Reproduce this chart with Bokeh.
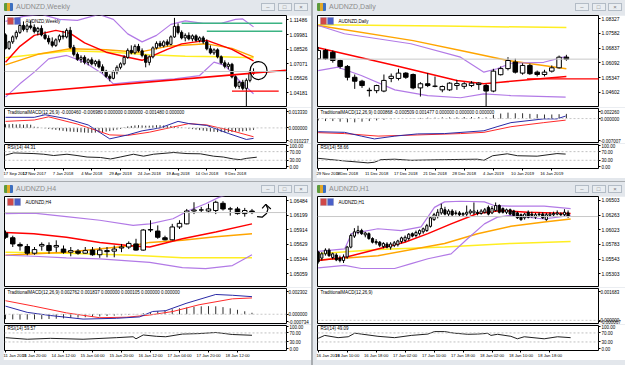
from bokeh.plotting import figure
from bokeh.models import Range1d, FixedTicker, PrintfTickFormatter, Label, Span, Div, BoxAnnotation, Spacer
from bokeh.layouts import column, row
from bokeh.embed import file_html
from bokeh.resources import INLINE

SANS = "Liberation Sans"

# ======================= WEEKLY =======================
w_open = [1.0995, 1.0860, 1.0925, 1.0975, 1.1020, 1.1090, 1.1050, 1.1085, 1.1070, 1.1030,
          1.1060, 1.0995, 1.0960, 1.0925, 1.0890, 1.0945, 1.0985, 1.0975, 1.1040, 1.0870,
          1.0800, 1.0750, 1.0770, 1.0720, 1.0745, 1.0705, 1.0730, 1.0675, 1.0630, 1.0580,
          1.0560, 1.0625, 1.0670, 1.0705, 1.0770, 1.0840, 1.0815, 1.0880, 1.0835, 1.0790,
          1.0720, 1.0775, 1.0865, 1.0910, 1.0885, 1.0925, 1.0900, 1.0975, 1.1080, 1.1020,
          1.0965, 1.0990, 1.0955, 1.0985, 1.0940, 1.0965, 1.0925, 1.0855, 1.0815, 1.0845,
          1.0775, 1.0715, 1.0680, 1.0700, 1.0575, 1.0480, 1.0520, 1.0460, 1.0540, 1.0615]
w_high = [1.1010, 1.0935, 1.0990, 1.1040, 1.1120, 1.1130, 1.1110, 1.1140, 1.1100, 1.1075,
          1.1090, 1.1030, 1.0990, 1.0970, 1.0960, 1.1000, 1.1035, 1.1060, 1.1075, 1.0895,
          1.0820, 1.0790, 1.0790, 1.0760, 1.0770, 1.0745, 1.0750, 1.0700, 1.0645, 1.0600,
          1.0640, 1.0690, 1.0720, 1.0790, 1.0860, 1.0890, 1.0900, 1.0905, 1.0860, 1.0800,
          1.0790, 1.0880, 1.0930, 1.0935, 1.0940, 1.0950, 1.0990, 1.1165, 1.1110, 1.1040,
          1.1010, 1.1020, 1.1000, 1.1000, 1.0980, 1.0985, 1.0950, 1.0890, 1.0860, 1.0860,
          1.0790, 1.0740, 1.0720, 1.0715, 1.0590, 1.0535, 1.0545, 1.0560, 1.0640, 1.0660]
w_low = [1.0850, 1.0845, 1.0905, 1.0950, 1.1005, 1.1030, 1.1020, 1.1050, 1.1010, 1.0990,
         1.0980, 1.0945, 1.0900, 1.0870, 1.0875, 1.0920, 1.0950, 1.0960, 1.0855, 1.0780,
         1.0735, 1.0715, 1.0700, 1.0690, 1.0690, 1.0680, 1.0660, 1.0610, 1.0565, 1.0530,
         1.0550, 1.0600, 1.0650, 1.0690, 1.0755, 1.0800, 1.0800, 1.0820, 1.0770, 1.0670,
         1.0690, 1.0760, 1.0850, 1.0870, 1.0870, 1.0880, 1.0890, 1.0965, 1.1000, 1.0950,
         1.0930, 1.0940, 1.0930, 1.0925, 1.0920, 1.0905, 1.0840, 1.0800, 1.0795, 1.0760,
         1.0700, 1.0660, 1.0650, 1.0560, 1.0460, 1.0455, 1.0440, 1.0280, 1.0520, 1.0595]
w_close = [1.0860, 1.0925, 1.0975, 1.1020, 1.1090, 1.1050, 1.1085, 1.1070, 1.1030, 1.1060,
           1.0995, 1.0960, 1.0925, 1.0890, 1.0945, 1.0985, 1.0975, 1.1040, 1.0870, 1.0800,
           1.0750, 1.0770, 1.0720, 1.0745, 1.0705, 1.0730, 1.0675, 1.0630, 1.0580, 1.0560,
           1.0625, 1.0670, 1.0705, 1.0770, 1.0840, 1.0815, 1.0880, 1.0835, 1.0790, 1.0720,
           1.0775, 1.0865, 1.0910, 1.0885, 1.0925, 1.0900, 1.0975, 1.1080, 1.1020, 1.0965,
           1.0990, 1.0955, 1.0985, 1.0940, 1.0965, 1.0925, 1.0855, 1.0815, 1.0845, 1.0775,
           1.0715, 1.0680, 1.0700, 1.0575, 1.0480, 1.0520, 1.0460, 1.0540, 1.0615, 1.0628]
w_price_ticks = [1.11486, 1.09981, 1.08526, 1.07071, 1.05626, 1.04181]
w_red_x = [0, 4, 8, 14, 18, 22, 28, 34, 38, 45, 49, 56, 63, 69]
w_red_y = [1.0722, 1.0880, 1.0990, 1.1040, 1.1010, 1.0915, 1.0822, 1.0772, 1.0740, 1.0850, 1.0905, 1.0940, 1.0850, 1.0735]
w_orange_x = [0, 9, 18, 28, 37, 45, 56, 63, 69]
w_orange_y = [1.0695, 1.0800, 1.0855, 1.0845, 1.0820, 1.0880, 1.0905, 1.0860, 1.0775]
w_yellow_x = [0, 10, 18, 30, 40, 50, 60, 69]
w_yellow_y = [1.0765, 1.0805, 1.0835, 1.0820, 1.0795, 1.0780, 1.0775, 1.0765]
w_bbu_x = [0, 5, 10, 15, 20, 26, 30, 34, 38, 42, 46, 50, 55, 60, 64, 66, 69]
w_bbu_y = [1.1130, 1.1180, 1.1200, 1.1150, 1.1140, 1.1200, 1.1150, 1.1005, 1.0925, 1.0990, 1.1100, 1.1135, 1.1110, 1.1110, 1.1150, 1.1155, 1.1075]
w_bbl_x = [0, 4, 8, 12, 17, 22, 27, 30, 35, 40, 47, 54, 58, 61, 65, 69]
w_bbl_y = [1.0372, 1.0505, 1.0622, 1.0755, 1.0789, 1.0722, 1.0605, 1.0505, 1.0522, 1.0538, 1.0555, 1.0588, 1.0722, 1.0689, 1.0538, 1.0405]
w_trend_x = [0, 78]
w_trend_y = [1.0400, 1.0640]
w_green1_x = [49, 77]
w_green1_y = [1.1112, 1.1112]
w_green2_x = [56, 77]
w_green2_y = [1.1032, 1.1032]
w_redh_x = [63, 76]
w_redh_y = [1.0431, 1.0431]
w_circle = dict(x=[70.4], y=[1.0638], w=[4.7], h=[0.018])
w_macd_blue_x = [0, 8, 11, 17, 23, 29, 34, 38, 43, 48, 51, 56, 62, 67, 69]
w_macd_blue_y = [0.0086, 0.0086, 0.0107, 0.0075, 0.0024, -0.0089, -0.0057, -0.0024, 0.0000, 0.0053, 0.0035, 0.0020, -0.0045, -0.0094, -0.0085]
w_macd_red_x = [0, 8, 12, 20, 29, 34, 40, 51, 56, 63, 69]
w_macd_red_y = [0.0053, 0.0064, 0.0090, 0.0031, -0.0057, -0.0061, -0.0035, 0.0035, 0.0024, -0.0024, -0.0072]
w_macd_hist = [0.0030, 0.0030, 0.0032, 0.0028, 0.0030, 0.0026, 0.0030, 0.0026, 0.0010, 0.0008,
               0.0000, -0.0004, -0.0008, -0.0012, -0.0016, -0.0020, -0.0024, -0.0028, -0.0030, -0.0032,
               -0.0034, -0.0036, -0.0038, -0.0040, -0.0040, -0.0038, -0.0036, -0.0034, -0.0030, -0.0026,
               -0.0020, -0.0014, -0.0008, 0.0004, 0.0012, 0.0016, 0.0020, 0.0022, 0.0020, 0.0018,
               0.0018, 0.0020, 0.0022, 0.0022, 0.0020, 0.0018, 0.0016, 0.0012, 0.0008, 0.0004,
               0.0000, -0.0006, -0.0010, -0.0014, -0.0018, -0.0022, -0.0026, -0.0030, -0.0032, -0.0034,
               -0.0034, -0.0036, -0.0036, -0.0034, -0.0032, -0.0030, -0.0028, -0.0024, -0.0020, -0.0016]
w_macd_ticks = [0.013330, 0.0, -0.010237]
w_rsi_x = [0, 2.3, 7.9, 10.6, 13.4, 17.1, 19.9, 22.7, 26.4, 29.2, 31.9, 35.6, 38.4, 41.2, 46.8, 50.5, 54.2, 57.9, 60.6, 63.4, 65.3, 67.1, 69.9]
w_rsi_y = [54, 64, 61, 58, 52, 58, 52, 45, 43, 36, 45, 58, 49, 58, 66, 61, 60, 49, 45, 36, 33, 39, 44.3]
w_date_ticks = [0, 8, 16, 24, 32, 40, 48, 56, 64]
w_date_labels = ["17 Sep 2017", "12 Nov 2017", "7 Jan 2018", "4 Mar 2018", "29 Apr 2018",
                 "24 Jun 2018", "19 Aug 2018", "14 Oct 2018", "9 Dec 2018"]

# ======================= DAILY =======================
d_open = [1.0630, 1.0672, 1.0663, 1.0621, 1.0591, 1.0536, 1.0516, 1.0470, 1.0468, 1.0466,
          1.0530, 1.0530, 1.0557, 1.0550, 1.0482, 1.0503, 1.0490, 1.0472, 1.0472, 1.0494,
          1.0490, 1.0494, 1.0499, 1.0494, 1.0466, 1.0549, 1.0580, 1.0613, 1.0557, 1.0596,
          1.0562, 1.0550, 1.0567, 1.0584, 1.0638]
d_high = [1.0690, 1.0680, 1.0672, 1.0625, 1.0598, 1.0550, 1.0523, 1.0483, 1.0498, 1.0550,
          1.0555, 1.0579, 1.0562, 1.0555, 1.0511, 1.0557, 1.0540, 1.0494, 1.0511, 1.0523,
          1.0511, 1.0516, 1.0511, 1.0502, 1.0579, 1.0591, 1.0638, 1.0630, 1.0607, 1.0605,
          1.0570, 1.0574, 1.0596, 1.0646, 1.0650]
d_low = [1.0625, 1.0625, 1.0610, 1.0580, 1.0520, 1.0477, 1.0482, 1.0438, 1.0455, 1.0460,
         1.0511, 1.0520, 1.0528, 1.0475, 1.0438, 1.0486, 1.0485, 1.0460, 1.0466, 1.0472,
         1.0477, 1.0486, 1.0472, 1.0384, 1.0460, 1.0545, 1.0571, 1.0555, 1.0549, 1.0548,
         1.0540, 1.0540, 1.0560, 1.0580, 1.0620]
d_close = [1.0672, 1.0630, 1.0621, 1.0591, 1.0536, 1.0516, 1.0494, 1.0468, 1.0494, 1.0520,
           1.0541, 1.0557, 1.0536, 1.0482, 1.0503, 1.0494, 1.0491, 1.0489, 1.0506, 1.0504,
           1.0503, 1.0506, 1.0506, 1.0466, 1.0567, 1.0580, 1.0621, 1.0562, 1.0596, 1.0554,
           1.0550, 1.0562, 1.0584, 1.0638, 1.0628]
d_price_ticks = [1.08327, 1.07582, 1.06837, 1.06092, 1.05347, 1.04602]
d_yellow_x = [0, 17, 34]
d_yellow_y = [1.0803, 1.0796, 1.0788]
d_orange_x = [0, 13, 20, 26, 34]
d_orange_y = [1.0799, 1.0722, 1.0668, 1.0621, 1.0579]
d_red_x = [0, 10.5, 19, 22.7, 25, 34]
d_red_y = [1.0686, 1.0596, 1.0520, 1.0503, 1.0511, 1.0540]
d_bbu_x = [0, 3.6, 12.7, 19.5, 22.7, 24.5, 26.4, 30.9, 33.9]
d_bbu_y = [1.0799, 1.0757, 1.0706, 1.0638, 1.0562, 1.0579, 1.0607, 1.0612, 1.0641]
d_bbl_x = [0, 2.7, 5.9, 10.5, 15, 19.5, 22.7, 26.4, 33.9]
d_bbl_y = [1.0570, 1.0587, 1.0545, 1.0472, 1.0443, 1.0432, 1.0452, 1.0443, 1.0435]
d_redh_x = [28.6, 39]
d_redh_y = [1.0528, 1.0528]
d_macd_blue_x = [0, 3.6, 5.9, 7.7, 10.5, 13.6, 17.3, 22.7, 24.5, 26.4, 30.9, 32.7, 33.9]
d_macd_blue_y = [-0.0042, -0.0044, -0.0056, -0.0065, -0.0056, -0.0049, -0.0048, -0.0039, -0.0026, -0.0013, -0.0001, -0.0001, 0.0008]
d_macd_red_x = [0, 3.6, 8.2, 12.7, 19.5, 22.7, 26.4, 30.9, 33.9]
d_macd_red_y = [-0.0045, -0.0048, -0.0056, -0.0053, -0.0048, -0.0044, -0.0026, -0.0013, -0.0005]
d_macd_hist = [-0.0006, -0.0008, -0.0008, -0.0010, -0.0012, -0.0012, -0.0010, -0.0008, -0.0006, -0.0004,
               -0.0002, -0.0001, 0.0000, 0.0001, 0.0002, 0.0003, 0.0003, 0.0004, 0.0004, 0.0004,
               0.0005, 0.0005, 0.0005, 0.0004, 0.0012, 0.0016, 0.0019, 0.0017, 0.0017, 0.0015,
               0.0014, 0.0013, 0.0013, 0.0014, 0.0015]
d_macd_ticks = [0.002260, 0.0, -0.007007]
d_rsi_x = [0, 3.6, 6.8, 7.7, 8.6, 10.5, 12.7, 17.3, 21.8, 22.7, 23.9, 25.9, 27.3, 30, 32.7, 33.9]
d_rsi_y = [39, 27, 18, 21, 33, 35, 30, 33, 35, 30, 51, 60, 51, 49, 61, 58.7]
d_date_ticks = [0, 4, 8, 12, 16, 20, 24, 28, 32]
d_date_labels = ["29 Nov 2018", "5 Dec 2018", "11 Dec 2018", "17 Dec 2018", "21 Dec 2018",
                 "28 Dec 2018", "4 Jan 2019", "10 Jan 2019", "16 Jan 2019"]

# ======================= H4 =======================
h4_open = [1.0585, 1.0576, 1.0563, 1.0559, 1.0546, 1.0560, 1.0561, 1.0558, 1.0554, 1.0548,
           1.0550, 1.0546, 1.0552, 1.0543, 1.0551, 1.0550, 1.0556, 1.0558, 1.0564, 1.0552,
           1.0591, 1.0589, 1.0576, 1.0572, 1.0597, 1.0603, 1.0628, 1.0630, 1.0628, 1.0629,
           1.0643, 1.0632, 1.0632, 1.0623, 1.0628]
h4_high = [1.0590, 1.0580, 1.0567, 1.0564, 1.0558, 1.0567, 1.0567, 1.0571, 1.0561, 1.0558,
           1.0554, 1.0558, 1.0558, 1.0558, 1.0558, 1.0561, 1.0564, 1.0569, 1.0574, 1.0593,
           1.0610, 1.0600, 1.0580, 1.0603, 1.0610, 1.0632, 1.0645, 1.0636, 1.0642, 1.0648,
           1.0647, 1.0636, 1.0636, 1.0634, 1.0632]
h4_low = [1.0574, 1.0558, 1.0551, 1.0542, 1.0543, 1.0551, 1.0545, 1.0548, 1.0545, 1.0540,
          1.0543, 1.0545, 1.0541, 1.0537, 1.0538, 1.0538, 1.0548, 1.0554, 1.0551, 1.0551,
          1.0587, 1.0574, 1.0571, 1.0571, 1.0593, 1.0602, 1.0622, 1.0626, 1.0624, 1.0622,
          1.0629, 1.0619, 1.0621, 1.0617, 1.0622]
h4_close = [1.0577, 1.0564, 1.0560, 1.0546, 1.0553, 1.0563, 1.0551, 1.0561, 1.0548, 1.0551,
            1.0546, 1.0551, 1.0543, 1.0552, 1.0549, 1.0554, 1.0558, 1.0565, 1.0552, 1.0591,
            1.0592, 1.0577, 1.0572, 1.0597, 1.0604, 1.0628, 1.0630, 1.0630, 1.0632, 1.0645,
            1.0632, 1.0632, 1.0623, 1.0629, 1.0625]
h4_price_ticks = [1.06484, 1.06199, 1.05914, 1.05629, 1.05344, 1.05059]
h4_red_x = [0, 3.9, 8.4, 13, 17.6, 19.9, 24.4, 29, 34]
h4_red_y = [1.0586, 1.0584, 1.0577, 1.0567, 1.0560, 1.0558, 1.0574, 1.0587, 1.0603]
h4_orange_x = [0, 8.4, 17.6, 19.9, 24.4, 29, 34]
h4_orange_y = [1.0542, 1.0548, 1.0561, 1.0567, 1.0571, 1.0578, 1.0584]
h4_yellow_x = [0, 8.4, 17.6, 24.4, 34]
h4_yellow_y = [1.0548, 1.0546, 1.0542, 1.0537, 1.0537]
h4_bbu_x = [0, 3.9, 8.4, 13, 17.6, 19.9, 23.1, 25.3, 27.6, 29.5, 30.9]
h4_bbu_y = [1.0623, 1.0624, 1.0617, 1.0610, 1.0600, 1.0603, 1.0613, 1.0629, 1.0642, 1.0655, 1.0661]
h4_bbl_x = [0, 3.9, 8.4, 13, 19.9, 24.4, 27.6, 31.3, 34]
h4_bbl_y = [1.0542, 1.0540, 1.0537, 1.0535, 1.0528, 1.0518, 1.0516, 1.0522, 1.0543]
h4_squiggle_x = [34.7, 35.4, 36.0, 36.2, 35.9]
h4_squiggle_y = [1.0617, 1.0616, 1.0623, 1.0632, 1.0641]
h4_arrow_x = [35.4, 35.9, 36.6]
h4_arrow_y = [1.0633, 1.0641, 1.0632]
h4_macd_blue_x = [0, 3, 6.2, 10.7, 15.3, 18.5, 20.3, 22.1, 24.9, 29, 31.3, 34]
h4_macd_blue_y = [0.00082, 0.00019, -0.00013, -0.00049, -0.00041, -0.00027, 0.00028, 0.00036, 0.00110, 0.00200, 0.00192, 0.00178]
h4_macd_red_x = [0, 3.9, 8.4, 13, 16.7, 19.9, 23.1, 26.7, 31.3, 34]
h4_macd_red_y = [0.00137, 0.00082, 0.00014, -0.00035, -0.00030, -0.00008, 0.00028, 0.00096, 0.00156, 0.00165]
h4_macd_hist = [-0.00050, -0.00052, -0.00054, -0.00054, -0.00052, -0.00050, -0.00048, -0.00045, -0.00042, -0.00038,
                -0.00034, -0.00030, -0.00026, -0.00022, -0.00018, -0.00014, -0.00010, -0.00006, -0.00002, 0.00010,
                0.00020, 0.00030, 0.00040, 0.00050, 0.00060, 0.00068, 0.00075, 0.00080, 0.00082, 0.00080,
                0.00072, 0.00060, 0.00045, 0.00030, 0.00015]
h4_macd_ticks = [0.002302, 0.0, -0.000734]
h4_rsi_x = [0, 3, 6.2, 10.7, 15.3, 17.6, 18, 19, 20.8, 22.1, 24.4, 26.7, 29, 31.3, 34]
h4_rsi_y = [49, 42, 46, 42, 49, 53, 44, 61, 55, 53, 65, 67, 72, 63, 59.6]
h4_date_ticks = [0, 4, 8, 12, 16, 20, 24, 28, 32]
h4_date_labels = ["11 Jan 2019", "11 Jan 20:00", "14 Jan 12:00", "15 Jan 04:00", "15 Jan 20:00",
                  "16 Jan 12:00", "17 Jan 04:00", "17 Jan 20:00", "18 Jan 12:00"]

# ======================= H1 =======================
h1_open = [1.0566, 1.0556, 1.0563, 1.0569, 1.0557, 1.0561, 1.0556, 1.0552, 1.0558, 1.0574,
           1.0592, 1.0598, 1.0601, 1.0594, 1.0596, 1.0588, 1.0583, 1.0582, 1.0575, 1.0579,
           1.0574, 1.0577, 1.0578, 1.0583, 1.0585, 1.0588, 1.0596, 1.0593, 1.0596, 1.0599,
           1.0601, 1.0608, 1.0619, 1.0624, 1.0630, 1.0635, 1.0628, 1.0633, 1.0629, 1.0630,
           1.0627, 1.0628, 1.0630, 1.0630, 1.0631, 1.0629, 1.0631, 1.0639, 1.0630, 1.0634,
           1.0642, 1.0637, 1.0631, 1.0635, 1.0633, 1.0630, 1.0627, 1.0622, 1.0631, 1.0628,
           1.0623, 1.0628, 1.0628, 1.0619, 1.0626, 1.0627, 1.0628, 1.0628, 1.0627, 1.0630]
h1_high = [1.0568, 1.0566, 1.0572, 1.0572, 1.0565, 1.0564, 1.0560, 1.0562, 1.0576, 1.0596,
           1.0605, 1.0609, 1.0604, 1.0599, 1.0598, 1.0590, 1.0587, 1.0584, 1.0582, 1.0582,
           1.0582, 1.0584, 1.0586, 1.0591, 1.0593, 1.0597, 1.0598, 1.0601, 1.0603, 1.0606,
           1.0612, 1.0624, 1.0630, 1.0636, 1.0645, 1.0640, 1.0636, 1.0636, 1.0634, 1.0633,
           1.0631, 1.0642, 1.0636, 1.0647, 1.0635, 1.0636, 1.0638, 1.0642, 1.0641, 1.0647,
           1.0644, 1.0639, 1.0637, 1.0637, 1.0635, 1.0632, 1.0629, 1.0630, 1.0634, 1.0632,
           1.0630, 1.0631, 1.0631, 1.0630, 1.0631, 1.0632, 1.0634, 1.0631, 1.0636, 1.0634]
h1_low = [1.0547, 1.0552, 1.0560, 1.0558, 1.0554, 1.0551, 1.0549, 1.0548, 1.0555, 1.0572,
          1.0589, 1.0595, 1.0594, 1.0590, 1.0586, 1.0580, 1.0578, 1.0574, 1.0572, 1.0572,
          1.0570, 1.0574, 1.0575, 1.0580, 1.0582, 1.0585, 1.0590, 1.0590, 1.0593, 1.0596,
          1.0599, 1.0606, 1.0617, 1.0621, 1.0627, 1.0626, 1.0625, 1.0624, 1.0626, 1.0624,
          1.0624, 1.0625, 1.0627, 1.0627, 1.0626, 1.0627, 1.0629, 1.0626, 1.0628, 1.0632,
          1.0629, 1.0629, 1.0628, 1.0626, 1.0624, 1.0620, 1.0617, 1.0619, 1.0621, 1.0622,
          1.0620, 1.0624, 1.0620, 1.0617, 1.0623, 1.0624, 1.0626, 1.0625, 1.0624, 1.0622]
h1_close = [1.0550, 1.0563, 1.0569, 1.0560, 1.0563, 1.0553, 1.0552, 1.0558, 1.0574, 1.0593,
            1.0599, 1.0601, 1.0596, 1.0597, 1.0588, 1.0582, 1.0581, 1.0577, 1.0580, 1.0574,
            1.0579, 1.0581, 1.0584, 1.0589, 1.0590, 1.0595, 1.0592, 1.0598, 1.0601, 1.0604,
            1.0609, 1.0622, 1.0627, 1.0631, 1.0637, 1.0628, 1.0633, 1.0627, 1.0630, 1.0627,
            1.0629, 1.0631, 1.0633, 1.0633, 1.0629, 1.0633, 1.0635, 1.0628, 1.0637, 1.0642,
            1.0631, 1.0631, 1.0635, 1.0628, 1.0626, 1.0622, 1.0619, 1.0628, 1.0623, 1.0626,
            1.0627, 1.0627, 1.0622, 1.0627, 1.0628, 1.0629, 1.0630, 1.0627, 1.0631, 1.0624]
h1_price_ticks = [1.06503, 1.06263, 1.06023, 1.05783, 1.05543, 1.05303]
h1_red_x = [0, 7.3, 16.5, 23.9, 30.3, 36.7, 44, 50.5, 57.8, 69.7]
h1_red_y = [1.0552, 1.0557, 1.0571, 1.0582, 1.0596, 1.0612, 1.0629, 1.0634, 1.0631, 1.0629]
h1_orange_x = [0, 16.5, 34.9, 44, 53.2, 62.4, 69.7]
h1_orange_y = [1.0553, 1.0560, 1.0580, 1.0596, 1.0608, 1.0615, 1.0620]
h1_yellow_x = [0, 16.5, 34.9, 53.2, 69.7]
h1_yellow_y = [1.0563, 1.0570, 1.0574, 1.0580, 1.0583]
h1_bbu_x = [0, 7.3, 9.2, 16.5, 22.9, 28.4, 32.1, 34.9, 39.4, 45.9, 48.6, 53.2, 62.4, 69.7]
h1_bbu_y = [1.0567, 1.0571, 1.0596, 1.0604, 1.0601, 1.0607, 1.0639, 1.0648, 1.0649, 1.0648, 1.0642, 1.0641, 1.0641, 1.0637]
h1_bbl_x = [0, 7.3, 11.9, 21.1, 25.7, 30.3, 36.7, 41.3, 45.9, 49.5, 53.2, 62.4, 69.7]
h1_bbl_y = [1.0540, 1.0544, 1.0539, 1.0539, 1.0547, 1.0555, 1.0563, 1.0588, 1.0612, 1.0623, 1.0626, 1.0620, 1.0626]
h1_macd_ticks = [0.001683, 0.0, -0.000067]
h1_rsi_x = [0, 1.8, 5.5, 8.3, 10.1, 11.9, 16.5, 21.1, 25.7, 30.3, 32.1, 34.9, 37.6, 41.3, 44, 46.8, 47.7, 49.5, 53.2, 55, 56.9, 62.4, 66.1, 69.7]
h1_rsi_y = [46, 59, 49, 53, 69, 65, 55, 49, 59, 65, 76, 76, 69, 64, 65, 68, 59, 64, 55, 44, 53, 44, 53, 49]
h1_date_ticks = [0, 8, 16, 24, 32, 40, 48, 56, 64]
h1_date_labels = ["16 Jan 2019", "16 Jan 10:00", "16 Jan 18:00", "17 Jan 02:00", "17 Jan 10:00",
                  "17 Jan 18:00", "18 Jan 02:00", "18 Jan 10:00", "18 Jan 18:00"]

rsi_ticks = [100, 70, 30, 0]

# ======================= STYLE =======================
C_RED = "#ff0000"
C_ORANGE = "#ffa500"
C_YELLOW = "#ffee22"
C_PURPLE = "#b27ae6"
C_GREEN = "#3cb383"
C_MBLUE = "#2a2aa6"
C_MRED = "#ff2a2a"
FRAME_BG = "#e3e7ec"
GAP_BG = "#a8acb0"
AXF = "5px"
SMALLF = "4.5px"
DATEF = "4.2px"


def style_axis(ax, size=AXF):
    ax.major_label_text_font = SANS
    ax.major_label_text_font_size = size
    ax.major_label_text_color = "black"
    ax.major_tick_out = 2
    ax.major_tick_in = 0
    ax.minor_tick_out = 0
    ax.minor_tick_in = 0
    ax.major_label_standoff = 1
    ax.axis_line_color = None
    ax.major_tick_line_color = "black"


def base_fig(w, h, xr, yr, lb, rb, tb, bb, with_x):
    p = figure(width=w, height=h, x_range=Range1d(*xr), y_range=Range1d(*yr),
               toolbar_location=None, tools="", output_backend="svg",
               x_axis_location="below" if with_x else None, y_axis_location="right",
               min_border_left=lb, min_border_right=rb, min_border_top=tb, min_border_bottom=bb,
               background_fill_color="white", border_fill_color="white",
               outline_line_color="black", outline_line_width=1, margin=(0, 0, 0, 3))
    p.grid.visible = False
    return p


def corner_label(p, text, x, yr, frame_h, px_down=1, color="black", size=SMALLF):
    ypos = yr[1] - px_down * (yr[1] - yr[0]) / frame_h
    p.add_layout(Label(x=x, y=ypos, x_units="screen", text=text, text_font=SANS,
                       text_font_size=size, text_baseline="top", text_color=color))


def title_div(text, w, h):
    btns = ""
    for k, g in enumerate(["&#8211;", "&#9633;", "&#215;"]):
        left = w - 50 + k * 16.5
        btns += (f'<div style="position:absolute;left:{left}px;top:3px;width:14px;height:8px;'
                 f'border:1px solid #b3bcc6;background:#e9edf1;box-sizing:border-box;'
                 f'font-size:6px;line-height:6px;text-align:center;color:#7a7a7a;">{g}</div>')
    html = (f'<div style="position:relative;width:{w}px;height:{h}px;overflow:hidden;'
            f'background:{FRAME_BG};font-family:{SANS};">'
            f'<div style="position:absolute;left:4px;top:3px;width:9px;height:8px;'
            f'background:linear-gradient(90deg,#5e9a3c 0 35%,#e3a92a 35% 65%,#3d6fc0 65%);'
            f'border-radius:1px;"></div>'
            f'<div style="position:absolute;left:16px;top:2px;font-size:7px;line-height:10px;'
            f'color:#8d8d8d;white-space:nowrap;">{text}</div>{btns}</div>')
    return Div(text=html, width=w, height=h, margin=(0, 0, 0, 0))


def draw_candles(p, o, h, l, c, bw):
    xs = list(range(len(o)))
    p.segment(x0=xs, y0=l, x1=xs, y1=h, line_color="black", line_width=1)
    up = [i for i in xs if c[i] >= o[i]]
    dn = [i for i in xs if c[i] < o[i]]
    p.vbar(x=up, bottom=[o[i] for i in up], top=[c[i] for i in up], width=bw,
           fill_color="white", line_color="black", line_width=1)
    p.vbar(x=dn, bottom=[c[i] for i in dn], top=[o[i] for i in dn], width=bw,
           fill_color="black", line_color="black", line_width=1)


def padded(lo, hi, frame_h, top_px, bot_px):
    k = (hi - lo) / (frame_h - top_px - bot_px)
    return (lo - bot_px * k, hi + top_px * k)


def build_window(cfg):
    W = cfg["win_w"]
    lb, fw, rb = cfg["lb"], cfg["fw"], cfg["rb"]
    fig_w = lb + fw + rb
    xr = cfg["xr"]
    o, h, l, c = cfg["ohlc"]

    # ---------- price ----------
    ph = cfg["price_h"]
    pp = base_fig(fig_w, ph, xr, cfg["price_yr"], lb, rb, 0, 0, False)
    ax = pp.yaxis[0]
    ax.ticker = FixedTicker(ticks=cfg["price_ticks"], minor_ticks=[])
    ax.formatter = PrintfTickFormatter(format="%.5f")
    style_axis(ax)
    pp.add_layout(Span(location=c[-1], dimension="width", line_color="#c8c8c8", line_width=1))
    for (lx, ly, col, lw) in cfg["lines"]:
        pp.line(lx, ly, line_color=col, line_width=lw)
    draw_candles(pp, o, h, l, c, cfg["bw"])
    if "extra" in cfg:
        cfg["extra"](pp)
    pp.add_layout(Label(x=lb + fw + 1, y=c[-1], x_units="screen", text=f"{c[-1]:.5f}",
                        text_font=SANS, text_font_size=AXF, text_baseline="middle",
                        text_color="white", background_fill_color="#a9a9a9"))
    yr = cfg["price_yr"]
    span = yr[1] - yr[0]
    pp.add_layout(BoxAnnotation(left=lb + 2, right=lb + 8, left_units="screen", right_units="screen",
                                top=yr[1] - 2 * span / ph, bottom=yr[1] - 9 * span / ph,
                                fill_color="#d04848", fill_alpha=1, line_color="#8080a0"))
    pp.add_layout(BoxAnnotation(left=lb + 9, right=lb + 15, left_units="screen", right_units="screen",
                                top=yr[1] - 2 * span / ph, bottom=yr[1] - 9 * span / ph,
                                fill_color="#4a5fc8", fill_alpha=1, line_color="#8080a0"))
    corner_label(pp, cfg["sym"], lb + 20, yr, ph, px_down=3)

    # ---------- MACD ----------
    mh = cfg["macd_h"]
    myr = padded(cfg["macd_ticks"][2], cfg["macd_ticks"][0], mh - 1, 3, 3)
    pm = base_fig(fig_w, mh, xr, myr, lb, rb, 1, 0, False)
    ax = pm.yaxis[0]
    ax.ticker = FixedTicker(ticks=cfg["macd_ticks"], minor_ticks=[])
    ax.formatter = PrintfTickFormatter(format="%.6f")
    style_axis(ax, SMALLF)
    ax.major_label_standoff = 0
    pm.add_layout(Span(location=0, dimension="width", line_color="#c8c8c8", line_dash="2 2", line_width=1))
    if cfg.get("hist") is not None:
        hx = list(range(len(cfg["hist"])))
        pm.segment(x0=hx, y0=[0] * len(hx), x1=hx, y1=cfg["hist"], line_color="#303030", line_width=1)
    for (lx, ly, col) in cfg.get("macd_lines", []):
        pm.line(lx, ly, line_color=col, line_width=1)
    corner_label(pm, cfg["macd_text"], lb + 2, myr, mh - 1, px_down=1)

    # ---------- RSI ----------
    rh = cfg["rsi_h"]
    rtb, rbb = 1, cfg["rsi_bb"]
    ryr = (-8, 103)
    pr = base_fig(fig_w, rh, xr, ryr, lb, rb, rtb, rbb, True)
    ax = pr.yaxis[0]
    ax.ticker = FixedTicker(ticks=rsi_ticks, minor_ticks=[])
    ax.formatter = PrintfTickFormatter(format="%.2f")
    style_axis(ax, SMALLF)
    for lvl in (30, 70):
        pr.add_layout(Span(location=lvl, dimension="width", line_color="#c0c0c0", line_dash="2 2", line_width=1))
    pr.line(cfg["rsi"][0], cfg["rsi"][1], line_color="#202020", line_width=1)
    xa = pr.xaxis[0]
    xa.ticker = FixedTicker(ticks=cfg["date_ticks"], minor_ticks=[])
    xa.major_label_overrides = {t: s for t, s in zip(cfg["date_ticks"], cfg["date_labels"])}
    style_axis(xa, DATEF)
    xa.major_label_standoff = 0
    xa.major_label_text_align = "left"
    corner_label(pr, cfg["rsi_text"], lb + 2, ryr, rh - rtb - rbb, px_down=0.5)

    return column(title_div(cfg["title"], W, cfg["title_h"]), pp, pm, pr,
                  Spacer(width=W, height=cfg["pad"]), spacing=0,
                  styles={"background-color": FRAME_BG})


def weekly_extra(p):
    p.line(w_trend_x, w_trend_y, line_color=C_RED, line_width=1.6)
    p.line(w_green1_x, w_green1_y, line_color=C_GREEN, line_width=1.6)
    p.line(w_green2_x, w_green2_y, line_color=C_GREEN, line_width=1.6)
    p.line(w_redh_x, w_redh_y, line_color=C_RED, line_width=1.2)
    p.ellipse(x=w_circle["x"], y=w_circle["y"], width=w_circle["w"], height=w_circle["h"],
              fill_color=None, line_color="black", line_width=1.2)


def daily_extra(p):
    p.line(d_redh_x, d_redh_y, line_color=C_RED, line_width=1.2)


def h4_extra(p):
    p.line(h4_squiggle_x, h4_squiggle_y, line_color="black", line_width=1.2)
    p.line(h4_arrow_x, h4_arrow_y, line_color="black", line_width=1.2)


LEFT = dict(win_w=311, lb=1, fw=284, rb=23)
RIGHT = dict(win_w=312, lb=1, fw=281, rb=27)
TOP = dict(title_h=15, price_h=92, macd_h=36, rsi_h=35, rsi_bb=7, pad=3)
BOT = dict(title_h=14, price_h=91, macd_h=37, rsi_h=36, rsi_bb=8, pad=5)

cfg_w = dict(LEFT, **TOP)
cfg_w.update(title="AUDNZD,Weekly", sym="AUDNZD,Weekly", xr=(-0.28, 78.17), bw=0.62,
             ohlc=(w_open, w_high, w_low, w_close), price_yr=(1.0268, 1.1189), price_ticks=w_price_ticks,
             lines=[(w_yellow_x, w_yellow_y, C_YELLOW, 1.5), (w_orange_x, w_orange_y, C_ORANGE, 1.5),
                    (w_bbu_x, w_bbu_y, C_PURPLE, 1.2), (w_bbl_x, w_bbl_y, C_PURPLE, 1.2),
                    (w_red_x, w_red_y, C_RED, 1.5)],
             extra=weekly_extra,
             macd_ticks=w_macd_ticks, hist=w_macd_hist,
             macd_lines=[(w_macd_red_x, w_macd_red_y, C_MRED), (w_macd_blue_x, w_macd_blue_y, C_MBLUE)],
             macd_text="TraditionalMACD(12,26,9) -0.000460 -0.006980 0.000000 0.000000 -0.001480 0.000000",
             rsi=(w_rsi_x, w_rsi_y), rsi_text="RSI(14) 44.31",
             date_ticks=w_date_ticks, date_labels=w_date_labels)

cfg_d = dict(RIGHT, **TOP)
cfg_d.update(title="AUDNZD,Daily", sym="AUDNZD,Daily", xr=(-0.1, 38.4), bw=0.62,
             ohlc=(d_open, d_high, d_low, d_close), price_yr=(1.03825, 1.08495), price_ticks=d_price_ticks,
             lines=[(d_yellow_x, d_yellow_y, C_YELLOW, 1.5), (d_orange_x, d_orange_y, C_ORANGE, 1.5),
                    (d_bbu_x, d_bbu_y, C_PURPLE, 1.2), (d_bbl_x, d_bbl_y, C_PURPLE, 1.2),
                    (d_red_x, d_red_y, C_RED, 1.5)],
             extra=daily_extra,
             macd_ticks=d_macd_ticks, hist=d_macd_hist,
             macd_lines=[(d_macd_red_x, d_macd_red_y, C_MRED), (d_macd_blue_x, d_macd_blue_y, C_MBLUE)],
             macd_text="TraditionalMACD(12,26,9) 0.000868 -0.000509 0.001477 0.000000 0.000000 0.000000",
             rsi=(d_rsi_x, d_rsi_y), rsi_text="RSI(14) 58.66",
             date_ticks=d_date_ticks, date_labels=d_date_labels)

cfg_h4 = dict(LEFT, **BOT)
cfg_h4.update(title="AUDNZD,H4", sym="AUDNZD,H4", xr=(-0.14, 38.76), bw=0.62,
              ohlc=(h4_open, h4_high, h4_low, h4_close), price_yr=(1.04793, 1.06562), price_ticks=h4_price_ticks,
              lines=[(h4_yellow_x, h4_yellow_y, C_YELLOW, 1.5), (h4_orange_x, h4_orange_y, C_ORANGE, 1.5),
                     (h4_bbu_x, h4_bbu_y, C_PURPLE, 1.2), (h4_bbl_x, h4_bbl_y, C_PURPLE, 1.2),
                     (h4_red_x, h4_red_y, C_RED, 1.5)],
              extra=h4_extra,
              macd_ticks=h4_macd_ticks, hist=h4_macd_hist,
              macd_lines=[(h4_macd_red_x, h4_macd_red_y, C_MRED), (h4_macd_blue_x, h4_macd_blue_y, C_MBLUE)],
              macd_text="TraditionalMACD(12,26,9) 0.002762 0.001837 0.000000 0.000105 0.000000 0.000000",
              rsi=(h4_rsi_x, h4_rsi_y), rsi_text="RSI(14) 59.57",
              date_ticks=h4_date_ticks, date_labels=h4_date_labels)

cfg_h1 = dict(RIGHT, **BOT)
cfg_h1.update(title="AUDNZD,H1", sym="AUDNZD,H1", xr=(-0.19, 77.4), bw=0.6,
              ohlc=(h1_open, h1_high, h1_low, h1_close), price_yr=(1.05079, 1.06568), price_ticks=h1_price_ticks,
              lines=[(h1_yellow_x, h1_yellow_y, C_YELLOW, 1.5), (h1_orange_x, h1_orange_y, C_ORANGE, 1.5),
                     (h1_bbu_x, h1_bbu_y, C_PURPLE, 1.2), (h1_bbl_x, h1_bbl_y, C_PURPLE, 1.2),
                     (h1_red_x, h1_red_y, C_RED, 1.5)],
              macd_ticks=h1_macd_ticks, hist=None, macd_lines=[],
              macd_text="TraditionalMACD(12,26,9)",
              rsi=(h1_rsi_x, h1_rsi_y), rsi_text="RSI(14) 49.09",
              date_ticks=h1_date_ticks, date_labels=h1_date_labels)

win_w = build_window(cfg_w)
win_d = build_window(cfg_d)
win_h4 = build_window(cfg_h4)
win_h1 = build_window(cfg_h1)

root = column(row(win_w, win_d, spacing=2), row(win_h4, win_h1, spacing=2), spacing=1,
              styles={"background-color": GAP_BG})

open("out.html", "w").write(file_html(root, INLINE))
